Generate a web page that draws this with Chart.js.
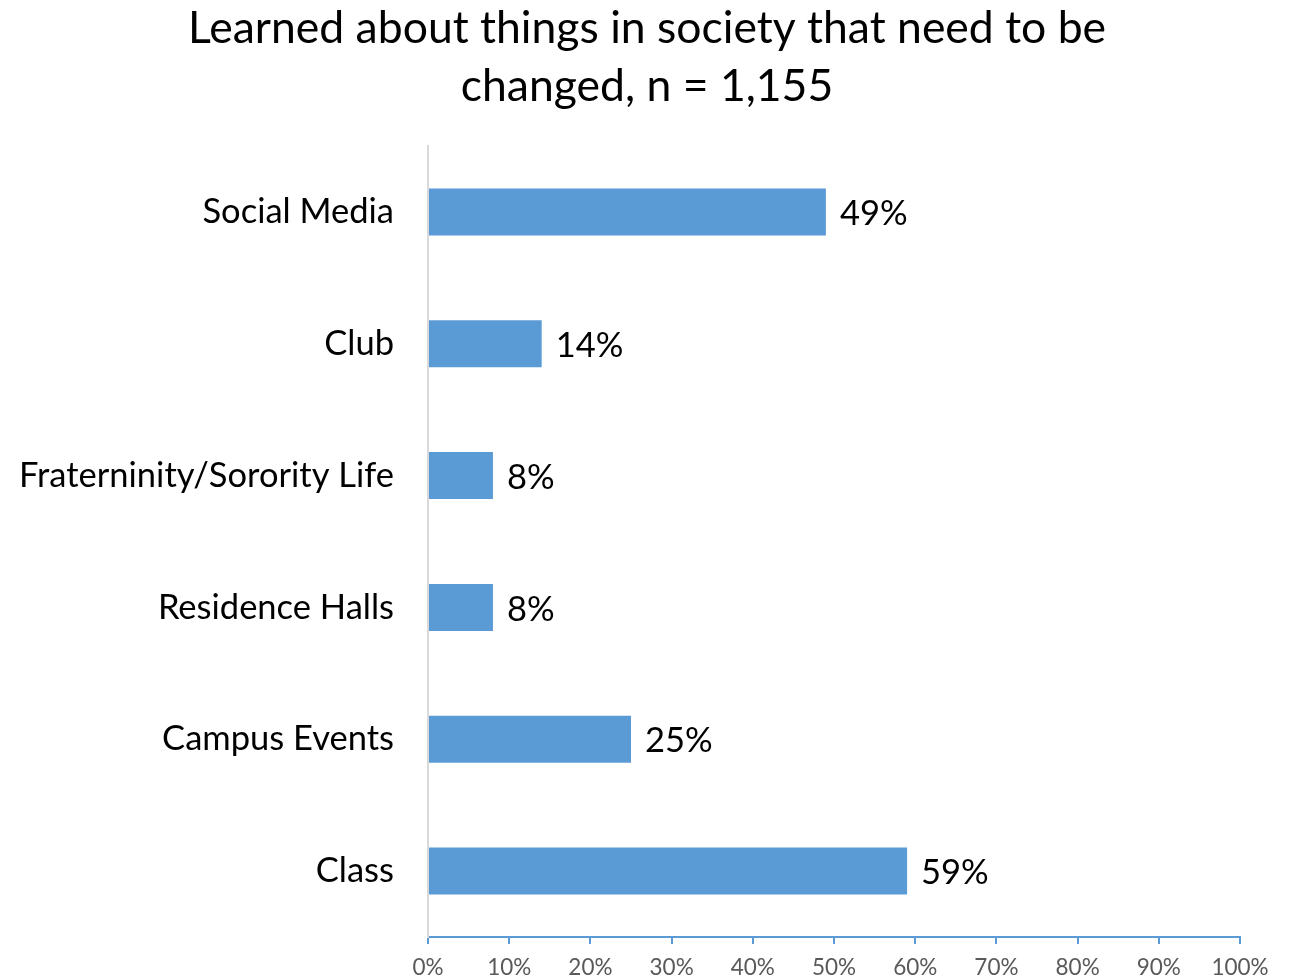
<!DOCTYPE html>
<html>
<head>
<meta charset="utf-8">
<script src="https://cdn.jsdelivr.net/npm/chart.js@4/dist/chart.umd.min.js"></script>
<style>
  html, body { margin: 0; padding: 0; background: #ffffff; }
  #wrap { width: 1294px; height: 979px; }
</style>
</head>
<body>
<div id="wrap"><canvas id="c" width="1294" height="979"></canvas></div>
<script>
const categories = ['Social Media', 'Club', 'Fraterninity/Sorority Life', 'Residence Halls', 'Campus Events', 'Class'];
const percentValues = [49, 14, 8, 8, 25, 59];
const tickValues = [0, 10, 20, 30, 40, 50, 60, 70, 80, 90, 100];
const titleLines = ['Learned about things in society that need to be', 'changed, n = 1,155'];

const FONT = 'Lato, "Open Sans", sans-serif';
const BAR_BLUE = '#5b9bd5';

// Percentage labels written just past the end of each bar
const valueLabels = {
  id: 'valueLabels',
  afterDatasetsDraw(chart) {
    const ctx = chart.ctx;
    const meta = chart.getDatasetMeta(0);
    ctx.save();
    ctx.font = '34.5px ' + FONT;
    ctx.fillStyle = '#000000';
    ctx.textAlign = 'left';
    ctx.textBaseline = 'middle';
    meta.data.forEach((bar, i) => {
      ctx.fillText(percentValues[i] + '%', bar.x + 14, bar.y + 2);
    });
    ctx.restore();
  }
};

new Chart(document.getElementById('c'), {
  type: 'bar',
  data: {
    labels: categories,
    datasets: [{
      data: percentValues,
      backgroundColor: BAR_BLUE,
      borderWidth: 0,
      categoryPercentage: 1,
      barPercentage: 0.356
    }]
  },
  options: {
    indexAxis: 'y',
    responsive: false,
    animation: false,
    layout: { padding: 0 },
    plugins: {
      legend: { display: false },
      tooltip: { enabled: false },
      title: {
        display: true,
        text: titleLines,
        color: '#000000',
        font: { family: FONT, size: 44.5, weight: 'normal', lineHeight: '58px' },
        padding: { top: 0, bottom: 30 }
      }
    },
    scales: {
      x: {
        min: 0,
        max: 100,
        afterBuildTicks(axis) { axis.ticks = tickValues.map(v => ({ value: v })); },
        afterFit(axis) {
          // keep room on the right for the "100%" label and a white margin
          axis.height = 42;
          axis.paddingLeft = 0;
          axis.paddingRight = 54;
        },
        border: { display: true, color: BAR_BLUE, width: 2 },
        grid: { drawOnChartArea: false, drawTicks: true, tickLength: 7, color: BAR_BLUE, lineWidth: 2 },
        ticks: {
          color: '#595959',
          font: { family: FONT, size: 22.5 },
          padding: 10,
          maxRotation: 0,
          callback: v => v + '%'
        }
      },
      y: {
        afterFit(axis) {
          axis.width = 428;
          axis.paddingTop = 0;
          axis.paddingBottom = 0;
        },
        border: { display: true, color: '#d9d9d9', width: 2 },
        grid: { display: false },
        ticks: {
          color: '#000000',
          font: { family: FONT, size: 34.5 },
          padding: 26
        }
      }
    }
  },
  plugins: [valueLabels]
});
</script>
</body>
</html>
